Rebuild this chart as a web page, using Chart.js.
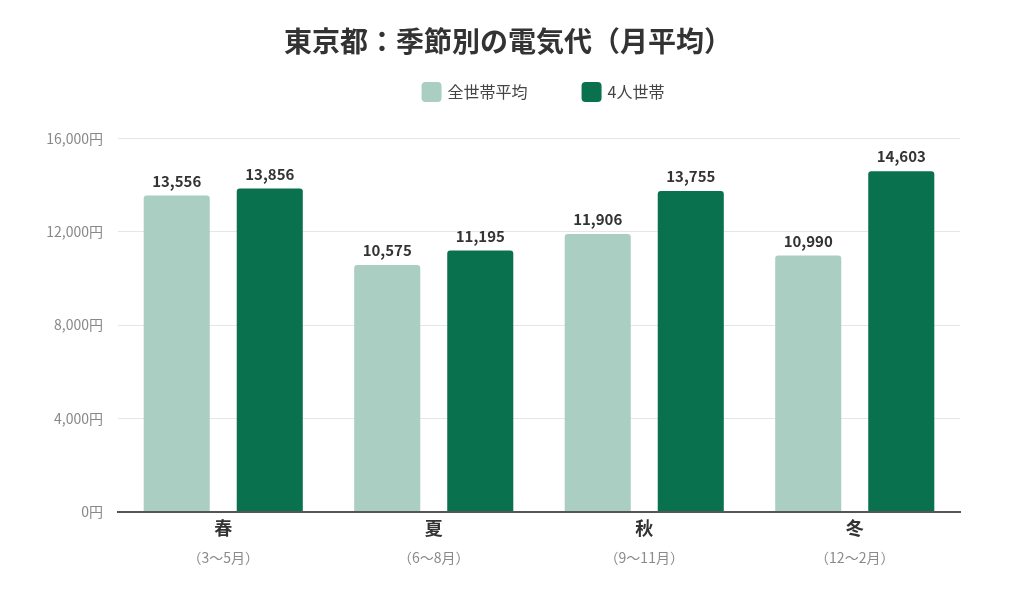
<!DOCTYPE html>
<html><head><meta charset="utf-8">
<script src="https://cdn.jsdelivr.net/npm/chart.js@4.4.1/dist/chart.umd.min.js"></script>
<style>html,body{margin:0;padding:0;background:#fff}#wrap{width:1024px;height:597px}</style>
</head><body><div id="wrap"><canvas id="c" width="1024" height="597"></canvas></div>
<script>
const seasons = ['春', '夏', '秋', '冬'];
const months = ['（3〜5月）', '（6〜8月）', '（9〜11月）', '（12〜2月）'];
const allHouseholds = [13556, 10575, 11906, 10990];
const fourPerson = [13856, 11195, 13755, 14603];
const yTicks = [0, 4000, 8000, 12000, 16000];
const FONT = "'Noto Sans CJK JP', 'Noto Sans', sans-serif";

function roundRect(ctx, x, y, w, h, r) {
  ctx.beginPath();
  ctx.moveTo(x + r, y);
  ctx.arcTo(x + w, y, x + w, y + h, r);
  ctx.arcTo(x + w, y + h, x, y + h, r);
  ctx.arcTo(x, y + h, x, y, r);
  ctx.arcTo(x, y, x + w, y, r);
  ctx.closePath();
}

const valueLabels = {
  id: 'valueLabels',
  afterDatasetsDraw(chart) {
    const ctx = chart.ctx;
    ctx.save();
    ctx.font = "bold 15px " + FONT;
    ctx.fillStyle = '#333333';
    ctx.textAlign = 'center';
    ctx.textBaseline = 'bottom';
    chart.data.datasets.forEach((ds, i) => {
      chart.getDatasetMeta(i).data.forEach((bar, j) => {
        ctx.fillText(ds.data[j].toLocaleString('en-US'), bar.x, bar.y - 7);
      });
    });
    ctx.restore();
  }
};

const customLegend = {
  id: 'customLegend',
  afterDraw(chart) {
    const ctx = chart.ctx;
    const box = 20, gapText = 6, gapItem = 54;
    ctx.save();
    ctx.font = "16px " + FONT;
    const items = chart.data.datasets.map(ds => ({ text: ds.label, color: ds.backgroundColor, w: ctx.measureText(ds.label).width }));
    const total = items.reduce((s, it) => s + box + gapText + it.w, 0) + gapItem * (items.length - 1);
    let x = (chart.chartArea.left + chart.chartArea.right) / 2 + 4 - total / 2;
    const top = 82;
    items.forEach(it => {
      ctx.fillStyle = it.color;
      roundRect(ctx, x, top, box, box, 4);
      ctx.fill();
      ctx.fillStyle = '#444444';
      ctx.textAlign = 'left';
      ctx.textBaseline = 'middle';
      ctx.fillText(it.text, x + box + gapText, top + box / 2);
      x += box + gapText + it.w + gapItem;
    });
    ctx.restore();
  }
};

const titleShift = {
  id: 'titleShift',
  beforeInit(chart) {
    const tb = chart.titleBlock;
    if (!tb) return;
    const d = tb.draw;
    tb.draw = function () {
      const ctx = chart.ctx;
      ctx.save();
      ctx.translate(28, 0);
      d.apply(this, arguments);
      ctx.restore();
    };
  }
};

new Chart(document.getElementById('c'), {
  type: 'bar',
  data: {
    labels: seasons,
    datasets: [
      { label: '全世帯平均', data: allHouseholds, backgroundColor: '#aacec2', borderRadius: {topLeft: 3, topRight: 3}, borderSkipped: 'bottom' },
      { label: '4人世帯', data: fourPerson, backgroundColor: '#0a714e', borderRadius: {topLeft: 3, topRight: 3}, borderSkipped: 'bottom' }
    ]
  },
  options: {
    responsive: false,
    animation: false,
    devicePixelRatio: 1,
    categoryPercentage: 0.884,
    barPercentage: 0.71,
    layout: { padding: { left: 0, right: 64, top: 0, bottom: 27 } },
    plugins: {
      title: { display: true, text: '東京都：季節別の電気代（月平均）', color: '#333333',
        font: { family: FONT, size: 28, weight: 'bold' }, padding: { top: 25, bottom: 80 } },
      legend: { display: false },
      tooltip: { enabled: false }
    },
    scales: {
      x: {
        grid: { display: false },
        border: { display: true, color: '#555555', width: 2 },
        ticks: { color: '#333333', font: { family: FONT, size: 18, weight: 'bold' }, padding: -2 }
      },
      x2: {
        type: 'category', position: 'bottom', labels: months,
        grid: { display: false }, border: { display: false },
        ticks: { color: '#8a8a8a', font: { family: FONT, size: 14 }, padding: 4 }
      },
      y: {
        min: 0, max: 16000,
        afterBuildTicks(axis) { axis.ticks = yTicks.map(v => ({ value: v })); },
        afterFit(axis) { axis.width = 118; },
        grid: { color: '#e6e6e6', lineWidth: 1, drawTicks: false },
        border: { display: false },
        ticks: { color: '#888888', font: { family: FONT, size: 14 }, padding: 15,
          callback: v => v.toLocaleString('en-US') + '円' }
      }
    }
  },
  plugins: [valueLabels, customLegend, titleShift]
});
</script></body></html>
